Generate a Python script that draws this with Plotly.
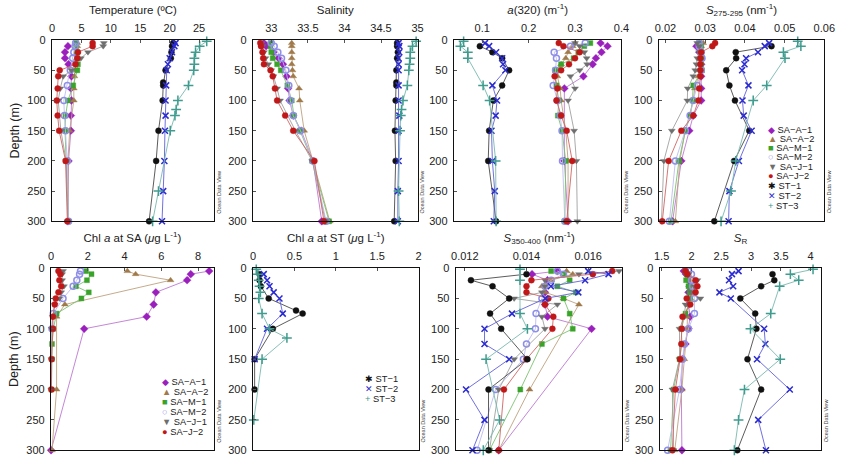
import plotly.graph_objects as go

N = None
# ---------------- station names ----------------
SA = ["SA-A-1", "SA-A-2", "SA-M-1", "SA-M-2", "SA-J-1", "SA-J-2"]
ST = ["ST-1", "ST-2", "ST-3"]
ALL = SA + ST

# ---------------- sampling depths (m) ----------------
depth = {
    "SA-A-1": [5, 10, 20, 30, 40, 60, 80, 100, 125, 150, 200, 300],
    "SA-A-2": [5, 10, 20, 30, 40, 50, 60, 80, 100, 150, 200, 300],
    "SA-M-1": [5, 10, 20, 30, 40, 50, 75, 100, 125, 150, 200, 300],
    "SA-M-2": [5, 10, 20, 30, 50, 75, 100, 125, 150, 200, 300],
    "SA-J-1": [5, 10, 20, 30, 40, 50, 60, 80, 100, 150, 200, 300],
    "SA-J-2": [5, 10, 20, 30, 40, 50, 60, 80, 100, 125, 150, 200, 300],
    "ST-1": [5, 10, 20, 30, 50, 70, 75, 100, 150, 200, 300],
    "ST-2": [5, 10, 20, 30, 40, 50, 75, 100, 125, 150, 200, 250, 300],
    "ST-3": [2, 10, 20, 30, 40, 50, 75, 100, 115, 125, 150, 200, 250, 300],
}

temperature = {
    "SA-A-1": [N, 2.7, 2.2, 2.2, 2.8, 3.3, 3.2, 3.3, 3.2, 3.2, 2.8, 2.7],
    "SA-A-2": [4.3, 4.3, 4.3, 4.2, 4.0, 3.9, 3.8, 3.7, 3.7, 3.0, 2.7, 2.8],
    "SA-M-1": [4.1, 4.1, 4.2, 4.3, 4.4, 4.3, 3.6, 2.7, 2.3, 2.2, 2.4, 2.8],
    "SA-M-2": [4.0, 3.9, 3.7, 3.5, 3.1, 2.6, 2.0, 2.1, 2.3, 2.6, 2.8],
    "SA-J-1": [8.8, 8.7, 6.1, 4.9, 4.0, 3.3, 1.9, 1.4, 1.05, 1.5, 2.4, 2.7],
    "SA-J-2": [6.9, 6.9, 4.4, 4.3, 4.0, 1.3, 1.05, 0.95, 0.8, 0.95, 1.2, 2.3, 2.6],
    "ST-1": [20.6, 20.4, 20.3, 20.2, 19.3, 18.9, 18.9, 18.8, 18.1, 17.7, 16.5],
    "ST-2": [21.0, 20.8, 20.4, 20.0, 19.7, 19.5, 19.4, 19.3, 19.3, 19.2, 19.1, 18.9, 18.7],
    "ST-3": [26.3, 25.1, 24.4, 24.2, 24.2, 24.1, 23.2, 21.4, 21.1, 20.9, 20.1, N, 18.1, 17.1],
}

salinity = {
    "SA-A-1": [32.9, 32.93, 33.03, 33.1, 33.16, 33.21, 33.23, 33.25, 33.3, 33.41, 33.57, 33.69],
    "SA-A-2": [33.28, 33.28, 33.28, 33.28, 33.28, 33.29, 33.3, 33.38, 33.39, 33.45, 33.57, 33.8],
    "SA-M-1": [32.99, 32.99, 33.0, 33.02, 33.08, 33.13, 33.22, 33.28, 33.31, 33.39, 33.56, 33.79],
    "SA-M-2": [33.0, 33.04, 33.09, 33.14, 33.2, 33.24, 33.26, 33.3, 33.4, 33.57, 33.75],
    "SA-J-1": [32.87, 32.88, 32.9, 32.92, 32.96, 33.0, 33.03, 33.08, 33.12, 33.33, 33.56, 33.74],
    "SA-J-2": [32.85, 32.86, 32.88, 32.89, 32.9, 32.99, 33.02, 33.05, 33.08, 33.19, 33.3, 33.59, 33.72],
    "ST-1": [34.72, 34.72, 34.73, 34.72, 34.71, 34.71, 34.71, 34.70, 34.69, 34.70, 34.68],
    "ST-2": [34.74, 34.75, 34.75, 34.74, 34.74, 34.74, 34.74, 34.74, 34.75, 34.74, 34.74, 34.73, 34.73],
    "ST-3": [34.98, 34.93, 34.9, 34.9, 34.89, 34.88, 34.86, 34.8, 34.78, 34.77, 34.76, N, 34.74, 34.75],
}

a320 = {
    "SA-A-1": [0.355, 0.37, 0.357, 0.345, 0.338, 0.318, 0.277, N, N, N, 0.277, 0.285],
    "SA-A-2": [0.30, 0.295, 0.285, 0.28, 0.27, 0.265, 0.262, 0.268, 0.27, 0.28, 0.285, 0.285],
    "SA-M-1": [0.333, 0.32, 0.307, 0.297, 0.27, 0.257, 0.26, 0.265, 0.263, 0.272, 0.28, 0.278],
    "SA-M-2": [0.322, 0.29, 0.255, 0.26, 0.258, 0.253, 0.262, 0.268, 0.272, 0.273, 0.278],
    "SA-J-1": [0.30, 0.31, 0.32, 0.325, 0.326, 0.31, 0.29, 0.30, 0.285, 0.298, 0.303, 0.305],
    "SA-J-2": [0.265, 0.275, 0.31, 0.30, 0.287, 0.27, 0.256, 0.262, 0.26, 0.27, 0.282, 0.294, 0.282],
    "ST-1": [N, 0.095, 0.122, 0.143, 0.158, N, 0.143, 0.124, 0.115, 0.113, 0.130],
    "ST-2": [0.106, 0.115, 0.13, 0.143, 0.145, 0.15, 0.122, 0.132, 0.129, 0.12, 0.122, 0.127, 0.125],
    "ST-3": [0.06, 0.053, 0.069, 0.069, N, N, 0.102, 0.116, N, N, N, 0.129, N, 0.13],
}

s275 = {
    "SA-A-1": [0.0285, 0.0278, 0.0285, 0.029, 0.029, 0.029, 0.029, 0.029, 0.027, 0.026, 0.024, 0.0218],
    "SA-A-2": [0.0295, 0.029, 0.0288, 0.0287, 0.0285, 0.0285, 0.0283, 0.0274, 0.027, 0.025, 0.0236, 0.0225],
    "SA-M-1": [0.0285, 0.029, 0.029, 0.0292, 0.029, 0.0292, 0.027, 0.0268, 0.0263, 0.025, 0.0234, 0.0214],
    "SA-M-2": [0.0285, 0.0285, 0.029, 0.0292, 0.029, 0.028, 0.027, 0.0262, 0.025, 0.0225, 0.021],
    "SA-J-1": [0.028, 0.0285, 0.0285, 0.028, 0.0278, 0.0275, 0.027, 0.0256, 0.0255, 0.0216, 0.0196, 0.019],
    "SA-J-2": [0.0325, 0.0318, 0.029, 0.0288, 0.0288, 0.0288, 0.0288, 0.0285, 0.0283, 0.027, 0.024, 0.0208, 0.0192],
    "ST-1": [N, 0.0467, 0.0377, 0.0378, 0.0353, N, 0.0361, 0.0375, 0.0411, 0.0373, 0.0323],
    "ST-2": [0.0461, 0.045, 0.0433, 0.0403, 0.0399, 0.0393, 0.0409, 0.0394, 0.0397, 0.0417, 0.0385, 0.0361, 0.0359],
    "ST-3": [0.0533, 0.0541, 0.0497, 0.0501, N, N, 0.0455, 0.0421, N, N, N, 0.0377, 0.0365, 0.034],
}

chl = {
    "SA-A-1": [8.6, 7.6, 7.4, N, 5.7, 5.58, 5.2, 1.8, N, N, N, 0.0],
    "SA-A-2": [4.15, 4.6, 6.5, N, N, N, 0.75, 0.3, N, N, 0.3, 0.05],
    "SA-M-1": [1.9, 2.2, 1.95, 1.35, 2.05, 1.65, 0.3, 0.12, 0.05, 0.04, 0.02, N],
    "SA-M-2": [1.6, 1.55, 1.4, 1.2, 0.65, 0.12, 0.05, N, N, N, N],
    "SA-J-1": [0.65, 0.6, 0.6, 0.7, 0.55, 0.45, 0.2, 0.08, 0.03, 0.02, 0.01, N],
    "SA-J-2": [0.4, 0.5, 0.45, 0.55, 0.4, 0.25, 0.2, 0.1, 0.1, N, 0.03, 0.02, N],
    "ST-1": [N, 0.08, 0.08, 0.095, 0.19, 0.52, 0.6, 0.24, 0.02, 0.02, N],
    "ST-2": [N, 0.13, 0.17, 0.2, 0.25, 0.32, 0.36, 0.17, N, 0.02, N, N, N],
    "ST-3": [0.04, 0.06, 0.07, 0.08, 0.09, 0.07, 0.11, 0.2, 0.41, N, 0.11, N, 0.01, N],
}

s350 = {
    "SA-A-1": [0.0150, 0.01418, 0.01468, N, 0.0146, 0.0146, 0.01468, 0.01611, N, N, N, 0.0131],
    "SA-A-2": [0.0153, 0.0155, 0.0148, 0.0145, 0.0146, 0.0152, 0.0157, N, N, N, 0.0141, 0.0131],
    "SA-M-1": [0.0148, 0.0152, 0.0154, 0.0150, 0.0156, 0.0152, 0.0154, 0.0155, 0.0145, N, 0.0138, 0.0128],
    "SA-M-2": [0.0150, 0.0152, 0.0148, 0.0146, 0.0145, 0.01431, 0.01429, 0.0140, 0.0139, 0.0130, 0.0124],
    "SA-J-1": [0.0170, 0.0157, 0.0146, 0.0146, 0.0145, 0.0136, 0.0150, 0.0145, 0.0146, 0.0136, 0.0131, 0.0128],
    "SA-J-2": [0.01678, 0.01615, 0.01416, 0.0140, 0.0140, 0.01471, 0.0146, 0.01487, 0.01484, N, 0.0140, 0.01327, 0.0131],
    "ST-1": [N, 0.0140, 0.0122, 0.0129, 0.01344, N, 0.01282, 0.01318, 0.01403, 0.01277, 0.01277],
    "ST-2": [0.0160, 0.01666, 0.0159, 0.01479, 0.01568, 0.01461, 0.01353, 0.01264, 0.01264, 0.01344, 0.01204, 0.01264, 0.01225],
    "ST-3": [0.01379, N, 0.01379, N, N, N, 0.01379, 0.01403, N, N, 0.01269, N, 0.01313, 0.0126],
}

sr = {
    "SA-A-1": [1.87, 1.91, 1.95, 1.97, 1.95, 1.95, 1.98, 1.95, 1.9, 1.85, 1.83, 1.84],
    "SA-A-2": [1.92, 1.95, 1.98, 2.0, 2.0, 1.98, 1.95, 1.93, 1.93, 1.88, 1.84, 1.72],
    "SA-M-1": [1.9, 1.92, 1.91, 1.95, 1.97, 1.98, 1.9, 1.83, 1.84, 1.8, 1.7, 1.65],
    "SA-M-2": [1.95, 2.0, 2.0, 2.02, 2.05, 2.05, 1.95, 1.88, 1.85, 1.8, 1.6],
    "SA-J-1": [1.9, 1.95, 2.1, 2.05, 2.0, 2.15, 1.9, 1.88, 1.8, 1.8, 1.68, 1.7],
    "SA-J-2": [1.9, 1.93, 2.07, 2.1, 2.07, 1.92, 1.98, 1.85, 1.84, 1.83, 1.81, 1.73, 1.68],
    "ST-1": [N, 3.36, 3.39, 3.17, 2.82, N, 3.07, 3.09, 2.94, 3.17, 2.77],
    "ST-2": [2.79, 2.68, 2.63, 2.7, 2.47, 2.66, N, 3.22, 3.24, 3.1, 3.65, 3.12, 3.25],
    "ST-3": [4.04, 3.66, 3.8, 3.48, N, N, 3.33, 2.99, N, N, 3.49, 2.89, 2.79, 2.72],
}

# ---------------- styling ----------------
style = {
    "SA-A-1": dict(symbol="diamond", color="#9b1fbd", line="#bd78d3", size=6),
    "SA-A-2": dict(symbol="triangle-up", color="#a07a4a", line="#bea27e", size=6),
    "SA-M-1": dict(symbol="square", color="#3aa32a", line="#7cc270", size=5),
    "SA-M-2": dict(symbol="circle-open", color="#8f8fe8", line="#bcbcf2", size=6),
    "SA-J-1": dict(symbol="triangle-down", color="#6e6e6e", line="#a0a0a0", size=6),
    "SA-J-2": dict(symbol="circle", color="#c01818", line="#d06464", size=6),
    "ST-1": dict(symbol="circle", color="#111111", line="#4a4a4a", size=6),
    "ST-2": dict(symbol="x-thin-open", color="#2b2bd0", line="#6060dc", size=6),
    "ST-3": dict(symbol="cross-thin-open", color="#3f9c8e", line="#78b9ae", size=7),
}
legend_sym = {"SA-A-1": "◆", "SA-A-2": "▲", "SA-M-1": "■", "SA-M-2": "○",
              "SA-J-1": "▼", "SA-J-2": "●", "ST-1": "✱", "ST-2": "✕", "ST-3": "+"}

W, H = 851, 466
FONT = "Liberation Sans, Arial, sans-serif"

# panel boxes in pixels: (left, right, top, bottom)
panels = [
    dict(data=temperature, names=ALL, box=(47, 212, 35, 221), rng=[0, 27.5],
         tv=[0, 5, 10, 15, 20, 25], tt=["0", "5", "10", "15", "20", "25"],
         title="Temperature (ºC)"),
    dict(data=salinity, names=ALL, box=(252, 420, 35, 221), rng=[32.75, 35],
         tv=[33, 33.5, 34, 34.5, 35], tt=["33", "33.5", "34", "34.5", "35"],
         title="Salinity"),
    dict(data=a320, names=ALL, box=(457, 628, 35, 221), rng=[0.039, 0.4],
         tv=[0.1, 0.2, 0.3, 0.4], tt=["0.1", "0.2", "0.3", "0.4"],
         title="<i>a</i>(320) (m<sup>-1</sup>)"),
    dict(data=s275, names=ALL, box=(666, 835, 35, 221), rng=[0.0183, 0.06],
         tv=[0.02, 0.03, 0.04, 0.05, 0.06], tt=["0.02", "0.03", "0.04", "0.05", "0.06"],
         title="<i>S</i><sub>275-295</sub> (nm<sup>-1</sup>)"),
    dict(data=chl, names=SA, box=(46, 212, 269, 456), rng=[0, 8.85],
         tv=[0, 2, 4, 6, 8], tt=["0", "2", "4", "6", "8"],
         title="Chl <i>a</i> at SA (<i>μ</i>g L<sup>-1</sup>)"),
    dict(data=chl, names=ST, box=(252, 421, 269, 456), rng=[0, 2],
         tv=[0, 0.5, 1, 1.5, 2], tt=["0", "0.5", "1", "1.5", "2"],
         title="Chl <i>a</i> at ST (<i>μ</i>g L<sup>-1</sup>)"),
    dict(data=s350, names=ALL, box=(459, 629, 269, 456), rng=[0.01171, 0.01711],
         tv=[0.012, 0.014, 0.016], tt=["0.012", "0.014", "0.016"],
         title="<i>S</i><sub>350-400</sub> (nm<sup>-1</sup>)"),
    dict(data=sr, names=ALL, box=(667, 832, 269, 456), rng=[1.467, 4.18],
         tv=[1.5, 2, 2.5, 3, 3.5, 4], tt=["1.5", "2", "2.5", "3", "3.5", "4"],
         title="<i>S</i><sub>R</sub>"),
]

fig = go.Figure()
layout = dict(width=W, height=H, margin=dict(l=0, r=0, t=0, b=0),
              paper_bgcolor="white", plot_bgcolor="white", showlegend=False,
              font=dict(family=FONT, color="#222", size=11))
annotations = []

for k, p in enumerate(panels, start=1):
    xa, ya = f"x{k}", f"y{k}"
    for name in p["names"]:
        s = style[name]
        fig.add_trace(go.Scatter(
            x=p["data"][name], y=depth[name], xaxis=xa, yaxis=ya,
            mode="lines+markers", connectgaps=True, cliponaxis=False,
            name=name,
            line=dict(color=s["line"], width=0.9),
            marker=dict(symbol=s["symbol"], color=s["color"], size=s["size"],
                        line=dict(color=s["color"], width=1.5 if "open" in s["symbol"] else 0.4)),
        ))
    l, r, t, b = p["box"]
    suffix = "" if k == 1 else str(k)
    layout["xaxis" + suffix] = dict(
        domain=[l / W, r / W], anchor=ya, side="top", range=p["rng"],
        tickmode="array", tickvals=p["tv"], ticktext=p["tt"],
        showline=True, mirror=True, linecolor="#111", linewidth=1.3,
        ticks="inside", ticklen=3, tickcolor="#555", showgrid=False, zeroline=False,
        tickfont=dict(size=11, color="#222"), ticklabelstandoff=3,
        title=dict(text=p["title"], font=dict(size=11.5, color="#222"), standoff=4),
    )
    ydict = dict(
        domain=[1 - b / H, 1 - t / H], anchor=xa, range=[300, 0],
        tickmode="array", tickvals=[0, 50, 100, 150, 200, 250, 300],
        showline=True, mirror=True, linecolor="#111", linewidth=1.3,
        ticks="inside", ticklen=3, tickcolor="#555", showgrid=False, zeroline=False,
        tickfont=dict(size=11, color="#222"), ticklabelstandoff=3,
    )
    if k in (1, 5):
        ydict["title"] = dict(text="Depth (m)", font=dict(size=12.5, color="#222"), standoff=4)
    layout["yaxis" + suffix] = ydict
    # "Ocean Data View" watermark
    annotations.append(dict(
        text="Ocean Data View", textangle=-90, showarrow=False,
        x=(r + 5) / W, y=1 - (b - 30) / H, xref="paper", yref="paper",
        xanchor="center", yanchor="middle", font=dict(size=5.5, color="#444", family=FONT)))

def legend(names, sym_x, ys):
    for name, yy in zip(names, ys):
        c = style[name]["color"]
        annotations.append(dict(
            text=f"<span style='color:{c}'>{legend_sym[name]}</span> {name.replace('-', '−')}",
            showarrow=False, x=(sym_x - 5) / W, y=1 - yy / H,
            xref="paper", yref="paper", xanchor="left", yanchor="middle",
            font=dict(size=9.3, color="#222", family=FONT)))

legend(ALL, 780, [127, 136.5, 146, 155.5, 165, 174.5, 185, 195, 205.5])
legend(SA, 162, [386, 396, 406.5, 416.5, 427, 437])
legend(ST, 369, [383, 393, 403])

layout["annotations"] = annotations
fig.update_layout(**layout)
fig.write_html("out.html")
